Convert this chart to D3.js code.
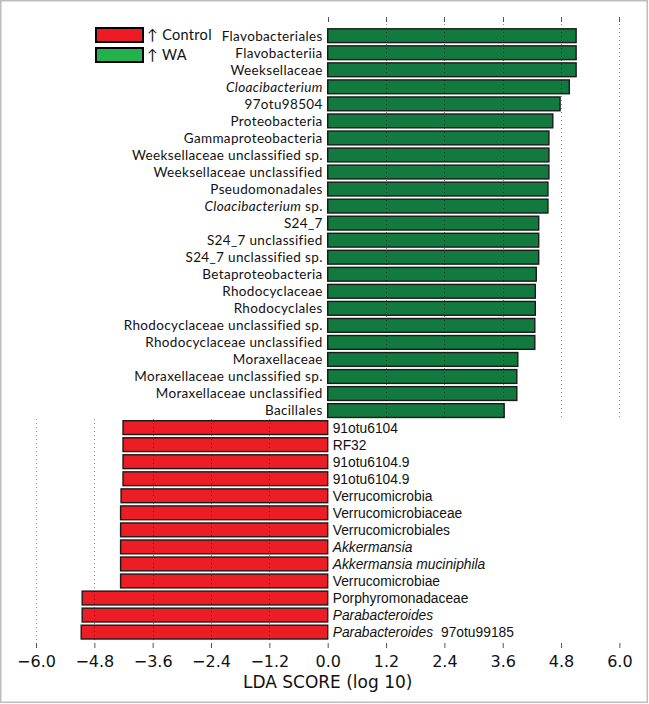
<!DOCTYPE html>
<html><head><meta charset="utf-8">
<script src="https://cdn.jsdelivr.net/npm/d3@7"></script>
<style>body{margin:0;background:#fff}svg{display:block}</style>
</head><body>
<svg id="c" width="649" height="704"></svg>
<script>
const greenLabels = ["Flavobacteriales","Flavobacteriia","Weeksellaceae","Cloacibacterium","97otu98504","Proteobacteria","Gammaproteobacteria","Weeksellaceae unclassified sp.","Weeksellaceae unclassified","Pseudomonadales","Cloacibacterium sp.","S24_7","S24_7 unclassified","S24_7 unclassified sp.","Betaproteobacteria","Rhodocyclaceae","Rhodocyclales","Rhodocyclaceae unclassified sp.","Rhodocyclaceae unclassified","Moraxellaceae","Moraxellaceae unclassified sp.","Moraxellaceae unclassified","Bacillales"];
const greenValues = [5.11,5.11,5.11,4.97,4.78,4.63,4.55,4.55,4.55,4.53,4.53,4.34,4.34,4.34,4.29,4.27,4.27,4.26,4.26,3.91,3.89,3.89,3.63];
const redLabels = ["91otu6104","RF32","91otu6104.9","91otu6104.9","Verrucomicrobia","Verrucomicrobiaceae","Verrucomicrobiales","Akkermansia","Akkermansia muciniphila","Verrucomicrobiae","Porphyromonadaceae","Parabacteroides","Parabacteroides 97otu99185"];
const redValues = [-4.21,-4.21,-4.21,-4.21,-4.25,-4.26,-4.26,-4.26,-4.26,-4.26,-5.05,-5.05,-5.07];
const tickValues = [-6.0,-4.8,-3.6,-2.4,-1.2,0.0,1.2,2.4,3.6,4.8,6.0];
const italicTerms = ["Akkermansia muciniphila","Cloacibacterium","Akkermansia","Parabacteroides"];
const legendLabels = ["Control","WA"];

const rows = greenLabels.map((l,i)=>({label:l,value:greenValues[i],grp:"WA"}))
  .concat(redLabels.map((l,i)=>({label:l,value:redValues[i],grp:"Control"})));
rows.forEach((d,i)=>d.key=i);

const svg = d3.select("#c");
const x = d3.scaleLinear().domain([-6,6]).range([36,619.4]);
const pitch = 17.04;
const y = d3.scaleBand().domain(rows.map(d=>d.key)).range([35.7-pitch/2, 35.7-pitch/2+pitch*rows.length]).paddingInner(0.19).paddingOuter(0.095);
const color = {WA:"#12793f", Control:"#ec1d25"};
const splitY = (y(greenLabels.length-1)+y.bandwidth()+y(greenLabels.length))/2;

// frame
svg.append("rect").attr("x",0.75).attr("y",0.75).attr("width",646.5).attr("height",701.5)
  .attr("fill","none").attr("stroke","#bdbdbd").attr("stroke-width",1.5);

// bars
svg.append("g").selectAll("rect").data(rows).join("rect")
  .attr("x",d=>x(Math.min(0,d.value)))
  .attr("width",d=>Math.abs(x(d.value)-x(0)))
  .attr("y",d=>y(d.key)).attr("height",y.bandwidth())
  .attr("fill",d=>color[d.grp]).attr("stroke","#1a1a1a").attr("stroke-width",1.4);

// grid lines (dotted)
const topGrid = tickValues.filter(v=>v>0);
const botGrid = tickValues.filter(v=>v<0);
const g = svg.append("g").attr("stroke","#000").attr("stroke-opacity",0.45).attr("stroke-width",1).attr("stroke-dasharray","1,3");
g.selectAll("line.t").data(topGrid).join("line").attr("class","t")
  .attr("x1",d=>Math.round(x(d))+0.5).attr("x2",d=>Math.round(x(d))+0.5).attr("y1",24).attr("y2",splitY);
g.selectAll("line.b").data(botGrid).join("line").attr("class","b")
  .attr("x1",d=>Math.round(x(d))+0.5).attr("x2",d=>Math.round(x(d))+0.5).attr("y1",splitY).attr("y2",641);

// top ticks
svg.append("g").attr("stroke","#555").selectAll("line").data(tickValues.filter(v=>v>=0)).join("line")
  .attr("x1",d=>Math.round(x(d))+0.5).attr("x2",d=>Math.round(x(d))+0.5).attr("y1",17).attr("y2",22);

// bottom axis
const ax = d3.axisBottom(x).tickValues(tickValues).tickFormat(d3.format(".1f")).tickSize(5).tickPadding(8);
const axg = svg.append("g").attr("transform","translate(0,643)").call(ax);
axg.select(".domain").remove();
axg.selectAll(".tick line").attr("stroke","#555");
axg.selectAll(".tick text").attr("font-family","DejaVu Sans").attr("font-size",16).attr("fill","#111");
svg.append("text").attr("x",x(0)).attr("y",688).attr("text-anchor","middle")
  .attr("font-family","DejaVu Sans").attr("font-size",17).attr("fill","#111").text("LDA SCORE (log 10)");

// labels
function addLabel(sel,d){
  const t = italicTerms.find(s=>d.label.startsWith(s));
  if(t){
    sel.append("tspan").attr("font-style","italic").text(t);
    const rest = d.label.slice(t.length);
    if(rest.length) sel.append("tspan").attr("dx",rest.startsWith(" ")&&d.grp==="Control"?4:0).text(rest);
  } else sel.text(d.label);
}
svg.append("g").selectAll("text").data(rows.filter(d=>d.grp==="WA")).join("text")
  .attr("x",x(0)-5).attr("y",d=>y(d.key)+y.bandwidth()/2).attr("dy","0.36em")
  .attr("text-anchor","end").attr("font-family","Lato").attr("font-size",13.5).attr("letter-spacing",0.35).attr("fill","#111")
  .attr("xml:space","preserve")
  .each(function(d){addLabel(d3.select(this),d);});
svg.append("g").selectAll("text").data(rows.filter(d=>d.grp==="Control")).join("text")
  .attr("x",x(0)+5).attr("y",d=>y(d.key)+y.bandwidth()/2).attr("dy","0.36em")
  .attr("text-anchor","start").attr("font-family","Liberation Sans").attr("font-size",13.8).attr("fill","#111")
  .attr("xml:space","preserve")
  .each(function(d){addLabel(d3.select(this),d);});

// legend
const lg = svg.append("g").selectAll("g").data(legendLabels).join("g")
  .attr("transform",(d,i)=>`translate(96,${28+i*20})`);
lg.append("rect").attr("width",47).attr("height",14)
  .attr("fill",d=>d==="Control"?"#ed1c24":"#22b14c").attr("stroke","#000").attr("stroke-width",2);
lg.append("text").attr("x",51).attr("y",7).attr("dy","0.36em").attr("font-family","Lato").attr("font-size",14.5).attr("letter-spacing",0.3).attr("fill","#111")
  .text(d=>"↑ "+d);
</script>
</body></html>
